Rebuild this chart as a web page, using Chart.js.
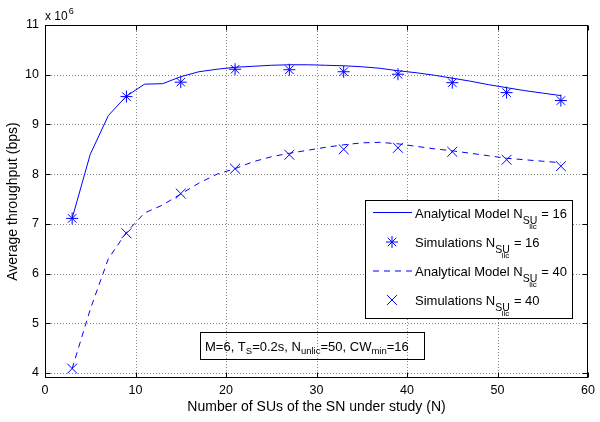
<!DOCTYPE html>
<html>
<head>
<meta charset="utf-8">
<script src="https://cdn.jsdelivr.net/npm/chart.js@4.4.1/dist/chart.umd.min.js"></script>
<style>
html,body{margin:0;padding:0;background:#fff;}
canvas{display:block;}
</style>
</head>
<body>
<canvas id="c" width="600" height="422"></canvas>
<script>
// ---- data ----
const analyticN = [3,5,7,9,11,13,15,17,19,21,23,25,27,29,31,33,35,37,39,41,43,45,47,49,51,53,55,57];
const analytic16 = [7.11,8.40,9.18,9.57,9.81,9.82,9.96,10.06,10.11,10.15,10.17,10.19,10.20,10.20,10.19,10.18,10.16,10.13,10.08,10.04,9.99,9.93,9.87,9.80,9.74,9.68,9.63,9.58];
const analytic40 = [4.09,5.28,6.30,6.83,7.22,7.38,7.60,7.82,8.00,8.11,8.25,8.35,8.42,8.48,8.54,8.59,8.63,8.64,8.61,8.56,8.51,8.47,8.42,8.37,8.32,8.29,8.26,8.23];
const simN = [3,9,15,21,27,33,39,45,51,57];
const sim16 = [7.11,9.56,9.85,10.11,10.10,10.06,10.01,9.84,9.64,9.48];
const sim40 = [4.09,6.81,7.61,8.11,8.39,8.50,8.53,8.45,8.29,8.16];
const xTicks = [0,10,20,30,40,50,60];
const yTicks = [4,5,6,7,8,9,10,11];
const legendLabels = [
  {main:'Analytical Model N', val:' = 16'},
  {main:'Simulations N', val:' = 16'},
  {main:'Analytical Model N', val:' = 40'},
  {main:'Simulations N', val:' = 40'}
];

const FAM = '"Liberation Sans", Arial, Helvetica, sans-serif';
const BLUE = '#0000ff';

function drawRuns(ctx, x, y, runs){
  let cx = x;
  runs.forEach(r=>{
    ctx.font = r.size + 'px ' + FAM;
    const px = cx + (r.dx||0);
    ctx.fillText(r.t, px, y + (r.dy||0));
    const w = ctx.measureText(r.t).width;
    if(!r.noAdvance) cx = px + w;
  });
  return cx;
}

const decor = {
  id:'decor',
  beforeDatasetsDraw(chart){
    const {ctx, chartArea:a, scales:{x,y}} = chart;
    ctx.save();
    ctx.strokeStyle = '#888';
    ctx.lineWidth = 1;
    ctx.setLineDash([1,2]);
    xTicks.forEach(v=>{
      const px = Math.round(x.getPixelForValue(v)) + 0.5;
      if(px <= a.left + 1 || px >= a.right - 1) return;
      ctx.beginPath(); ctx.moveTo(px, a.top); ctx.lineTo(px, a.bottom); ctx.stroke();
    });
    yTicks.forEach(v=>{
      const py = Math.round(y.getPixelForValue(v)) + 0.5;
      if(py <= a.top + 1 || py >= a.bottom - 1) return;
      ctx.beginPath(); ctx.moveTo(a.left, py); ctx.lineTo(a.right, py); ctx.stroke();
    });
    ctx.restore();
  },
  afterDraw(chart){
    const {ctx, chartArea:a, scales:{x,y}} = chart;
    ctx.save();
    ctx.strokeStyle = '#000'; ctx.lineWidth = 1; ctx.setLineDash([]);
    const L = Math.round(a.left)+0.5, R = Math.round(a.right)-0.5, T = Math.round(a.top)+0.5, B = Math.round(a.bottom)-0.5;
    ctx.strokeRect(L, T, R-L, B-T);
    const tl = 5;
    ctx.beginPath();
    xTicks.forEach(v=>{
      const px = Math.round(x.getPixelForValue(v)) + 0.5;
      ctx.moveTo(px, B); ctx.lineTo(px, B - tl);
      ctx.moveTo(px, T); ctx.lineTo(px, T + tl);
    });
    yTicks.forEach(v=>{
      const py = Math.round(y.getPixelForValue(v)) + 0.5;
      ctx.moveTo(L, py); ctx.lineTo(L + tl, py);
      ctx.moveTo(R, py); ctx.lineTo(R - tl, py);
    });
    ctx.stroke();

    ctx.fillStyle = '#000';
    ctx.textBaseline = 'alphabetic';
    ctx.textAlign = 'left';
    drawRuns(ctx, 45, 20, [{t:'x 10', size:12},{t:'6', size:9, dy:-6, dx:1}]);

    // legend box
    const lx = 365.5, ly = 200.5, lw = 207, lh = 118;
    ctx.fillStyle = '#fff';
    ctx.fillRect(lx, ly, lw, lh);
    ctx.strokeStyle = '#000';
    ctx.strokeRect(lx, ly, lw, lh);
    const rows = [212.5, 242, 271, 300];
    rows.forEach((ry, i)=>{
      ctx.strokeStyle = BLUE; ctx.lineWidth = 1;
      if(i === 0 || i === 2){
        ctx.setLineDash(i === 2 ? [6,5] : []);
        ctx.beginPath(); ctx.moveTo(373, ry); ctx.lineTo(412, ry); ctx.stroke();
        ctx.setLineDash([]);
      } else {
        const st = i === 1 ? 'star' : 'crossRot';
        const rad = i === 1 ? 6 : 7;
        Chart.helpers.drawPoint(ctx, {pointStyle:st, radius:rad, rotation:0, borderWidth:1}, 392, ry);
      }
      ctx.fillStyle = '#000';
      const lab = legendLabels[i];
      const base = ry + 5;
      drawRuns(ctx, 415, base, [
        {t:lab.main, size:13},
        {t:'SU', size:10.5, dy:6},
        {t:'lic', size:8, dy:11, dx:-8, noAdvance:true},
        {t:lab.val, size:13, dx:0.5}
      ]);
    });

    // annotation box
    ctx.strokeStyle = '#000'; ctx.lineWidth = 1;
    ctx.strokeRect(200.5, 332.5, 224, 27);
    ctx.fillStyle = '#000';
    drawRuns(ctx, 205, 350.5, [
      {t:'M=6, T', size:13},
      {t:'S', size:9.5, dy:3},
      {t:'=0.2s, N', size:13},
      {t:'unlic', size:9.5, dy:3},
      {t:'=50, CW', size:13},
      {t:'min', size:9.5, dy:3},
      {t:'=16', size:13}
    ]);
    ctx.restore();
  }
};

const ctx = document.getElementById('c').getContext('2d');
new Chart(ctx, {
  type:'scatter',
  data:{
    datasets:[
      {label:'Analytical Model N_SU_lic = 16', data: analyticN.map((n,i)=>({x:n, y:analytic16[i]})), showLine:true, borderColor:BLUE, backgroundColor:BLUE, borderWidth:1, pointRadius:0, tension:0},
      {label:'Simulations N_SU_lic = 16', data: simN.map((n,i)=>({x:n, y:sim16[i]})), showLine:false, pointStyle:'star', pointRadius:6, borderColor:BLUE, backgroundColor:BLUE, pointBorderWidth:1},
      {label:'Analytical Model N_SU_lic = 40', data: analyticN.map((n,i)=>({x:n, y:analytic40[i]})), showLine:true, borderColor:BLUE, backgroundColor:BLUE, borderWidth:1, borderDash:[6,5], pointRadius:0, tension:0},
      {label:'Simulations N_SU_lic = 40', data: simN.map((n,i)=>({x:n, y:sim40[i]})), showLine:false, pointStyle:'crossRot', pointRadius:7, borderColor:BLUE, backgroundColor:BLUE, pointBorderWidth:1}
    ]
  },
  options:{
    responsive:false,
    animation:false,
    devicePixelRatio:1,
    layout:{padding:{top:25, right:7, left:0, bottom:0}},
    plugins:{legend:{display:false}, tooltip:{enabled:false}},
    scales:{
      x:{
        type:'linear', min:0, max:60,
        afterBuildTicks: s=>{ s.ticks = xTicks.map(v=>({value:v})); },
        afterFit: s=>{ s.height = 44; },
        grid:{display:false, drawTicks:false},
        border:{display:false},
        ticks:{padding:5, color:'#000', maxRotation:0, font:{size:12.5, family:FAM}},
        title:{display:true, text:'Number of SUs of the SN under study (N)', color:'#000', font:{size:14, family:FAM}, padding:{top:0, bottom:6.5}}
      },
      y:{
        type:'linear', min:3.9, max:11,
        afterBuildTicks: s=>{ s.ticks = yTicks.map(v=>({value:v})); },
        afterFit: s=>{ s.width = 45; },
        grid:{display:false, drawTicks:false},
        border:{display:false},
        ticks:{padding:6, color:'#000', font:{size:12.5, family:FAM}},
        title:{display:true, text:'Average throughput (bps)', color:'#000', font:{size:14, family:FAM}, padding:{top:4.5, bottom:0}}
      }
    }
  },
  plugins:[decor]
});
</script>
</body>
</html>
